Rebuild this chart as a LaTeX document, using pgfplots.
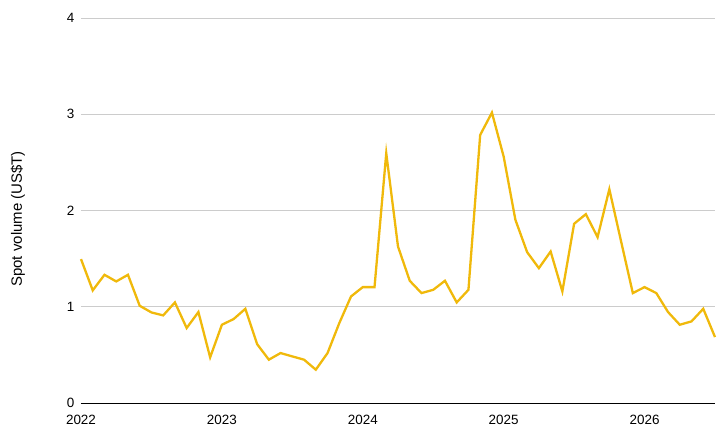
\documentclass[border=0pt]{standalone}
\usepackage{pgfplots}
\pgfplotsset{compat=1.18}
\usepackage{fontspec}
\setmainfont{Liberation Sans}
\definecolor{gold}{HTML}{F0B90B}
\definecolor{gridgray}{HTML}{CCCCCC}

\begin{document}
\begin{tikzpicture}
  \begin{axis}[
      scale only axis,
      width=634bp, height=385bp,
      xmin=0, xmax=54,
      ymin=0, ymax=4,
      xtick={0,12,24,36,48},
      xticklabels={2022,2023,2024,2025,2026},
      ytick={0,1,2,3,4},
      axis x line*=bottom,
      axis y line*=left,
      y axis line style={draw=none},
      x axis line style={black, line width=0.8bp, -},
      ymajorgrids,
      major grid style={gridgray, line width=1bp},
      major tick length=0pt,
      tick style={draw=none},
      font=\fontsize{13.5}{16}\selectfont,
      /pgf/number format/assume math mode=true,
      yticklabel style={xshift=-3bp},
      xticklabel style={yshift=-8.5bp},
      ylabel={Spot volume (US\$T)},
      every axis y label/.style={at={(axis description cs:-0.0994,0.478)},
        rotate=90, anchor=center, font=\fontsize{15}{18}\selectfont},
      clip=false,
    ]
    \addplot[gold, line width=2.3bp, line join=miter] coordinates {
      (0,1.495) (1,1.17) (2,1.332) (3,1.263) (4,1.332) (5,1.010)
      (6,0.941) (7,0.910) (8,1.045) (9,0.779) (10,0.945) (11,0.474)
      (12,0.813) (13,0.872) (14,0.979) (15,0.612) (16,0.450) (17,0.519)
      (18,0.484) (19,0.450) (20,0.346) (21,0.519) (22,0.830) (23,1.107)
      (24,1.204) (25,1.204) (26,2.595) (27,1.626) (28,1.27) (29,1.142)
      (30,1.176) (31,1.27) (32,1.045) (33,1.176) (34,2.785) (35,3.017)
      (36,2.56) (37,1.903) (38,1.567) (39,1.401) (40,1.574) (41,1.159)
      (42,1.862) (43,1.962) (44,1.723) (45,2.221) (46,1.68) (47,1.142)
      (48,1.204) (49,1.142) (50,0.945) (51,0.813) (52,0.848) (53,0.979)
      (54,0.685)
    };
  \end{axis}
  \path[use as bounding box] (-81bp,-32bp) rectangle (644bp,403bp);
\end{tikzpicture}
\end{document}
